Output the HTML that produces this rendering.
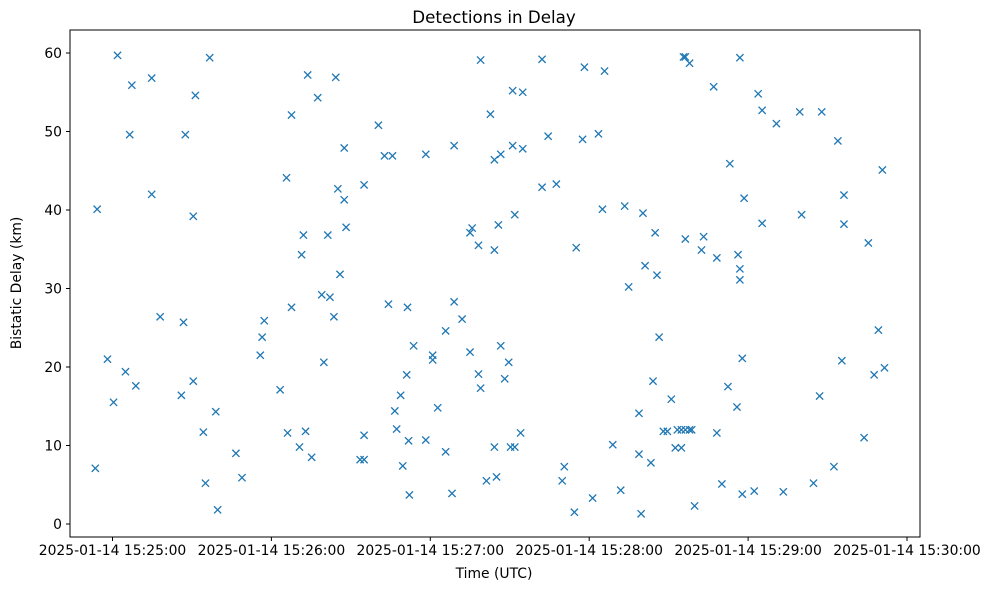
<!DOCTYPE html>
<html><head><meta charset="utf-8"><style>
body{margin:0;background:#fff;}
svg{display:block;font-family:"DejaVu Sans","Liberation Sans",sans-serif;}
</style></head><body>
<svg id="chart" width="988" height="590">
<rect x="70" y="30" width="850" height="507" fill="#fff" stroke="#000" stroke-width="1"/>
<text x="494" y="23" text-anchor="middle" font-size="16.7">Detections in Delay</text>
<text x="494" y="578" text-anchor="middle" font-size="13.9">Time (UTC)</text>
<text transform="translate(21,283) rotate(-90)" text-anchor="middle" font-size="13.9">Bistatic Delay (km)</text>
<g id="ticks"></g><g id="marks"></g>
</svg>
<script>
const seconds=[-6.5,-5.8,-1.9,0.4,1.9,4.9,6.5,7.3,8.8,14.8,14.8,18.0,26.0,26.8,27.5,30.5,30.5,31.3,34.3,35.1,36.7,39.0,39.7,46.6,48.9,55.8,56.5,57.3,63.3,65.7,66.1,67.6,67.6,70.6,71.4,72.1,72.9,73.7,75.2,77.5,79.0,79.8,81.3,82.1,83.6,84.3,85.1,85.9,87.5,87.5,88.2,93.5,95.0,95.0,95.0,100.4,102.7,104.2,105.7,106.6,107.3,108.8,109.6,111.1,111.4,111.8,112.1,113.7,118.3,118.3,120.9,120.9,122.8,125.8,125.8,128.2,129.0,129.0,132.0,135.0,135.0,135.8,138.2,138.2,139.0,139.0,141.2,142.7,144.2,144.2,144.2,145.0,145.7,146.6,146.6,148.1,149.6,150.3,151.1,151.1,151.9,151.9,154.1,154.9,154.9,162.2,162.2,164.5,167.6,169.8,170.6,174.4,175.1,177.5,178.2,181.3,183.5,185.0,185.8,188.9,191.9,193.4,194.9,198.8,198.8,199.6,200.3,201.1,203.3,204.1,204.9,205.6,206.4,208.0,209.5,211.0,212.5,213.3,214.8,214.8,215.6,216.3,216.3,217.9,216.3,217.9,218.7,219.8,223.2,222.4,227.0,228.2,228.2,230.1,232.4,233.1,235.8,236.2,236.9,236.9,236.9,237.8,237.8,238.5,242.3,243.8,245.3,245.3,250.7,253.3,259.5,260.2,264.7,267.0,267.8,272.4,273.9,275.4,276.2,276.2,283.8,285.4,287.6,289.2,290.7,291.5];
const delayKm=[7.1,40.1,21.0,15.5,59.7,19.4,49.6,55.9,17.6,56.8,42.0,26.4,16.4,25.7,49.6,39.2,18.2,54.6,11.7,5.2,59.4,14.3,1.8,9.0,5.9,21.5,23.8,25.9,17.1,44.1,11.6,27.6,52.1,9.8,34.3,36.8,11.8,57.2,8.5,54.3,29.2,20.6,36.8,28.9,26.4,56.9,42.7,31.8,47.9,41.3,37.8,8.2,8.2,11.3,43.2,50.8,46.9,28.0,46.9,14.4,12.1,16.4,7.4,19.0,27.6,10.6,3.7,22.7,10.7,47.1,21.5,20.9,14.8,9.2,24.6,3.9,48.2,28.3,26.1,21.9,37.1,37.7,19.1,35.5,59.1,17.3,5.5,52.2,34.9,46.4,9.8,6.0,38.1,47.1,22.7,18.5,20.6,9.8,48.2,55.2,9.8,39.4,11.6,47.8,55.0,42.9,59.2,49.4,43.3,5.5,7.3,1.5,35.2,49.0,58.2,3.3,49.7,40.1,57.7,10.1,4.3,40.5,30.2,14.1,8.9,1.3,39.6,32.9,7.8,18.2,37.1,31.7,23.8,11.8,11.8,15.9,9.7,12.0,12.0,9.7,59.5,12.0,59.5,12.0,36.3,58.7,12.0,2.3,36.6,34.9,55.7,33.9,11.6,5.1,17.5,45.9,14.9,34.3,32.5,31.1,59.4,21.1,3.8,41.5,4.2,54.8,52.7,38.3,51.0,4.1,52.5,39.4,5.2,16.3,52.5,7.3,48.8,20.8,41.9,38.2,11.0,35.8,19.0,24.7,45.1,19.9];
const xTickSeconds=[0,60,120,180,240,300];
const xTickLabels=["2025-01-14 15:25:00","2025-01-14 15:26:00","2025-01-14 15:27:00","2025-01-14 15:28:00","2025-01-14 15:29:00","2025-01-14 15:30:00"];
const yTicks=[0,10,20,30,40,50,60];

const NS="http://www.w3.org/2000/svg";
function xScale(s){return 112.5+s*158.9/60;}
function yScale(v){return 524-v*7.85;}
function mk(tag,attrs,parent){const e=document.createElementNS(NS,tag);for(const k in attrs)e.setAttribute(k,attrs[k]);parent.appendChild(e);return e;}
const tg=document.getElementById('ticks');
xTickSeconds.forEach((s,i)=>{
  const x=xScale(s);
  const l=mk('line',{x1:x,x2:x,y1:537,y2:541,stroke:'#000'},tg);
  
  
  const t=mk('text',{x:x,y:555,'text-anchor':'middle','font-size':13.9},tg);
  t.textContent=xTickLabels[i];
  
  
});
yTicks.forEach(v=>{
  const y=yScale(v);
  const l=mk('line',{x1:66,x2:70,y1:y,y2:y,stroke:'#000'},tg);
  
  
  const t=mk('text',{x:62,y:y+5,'text-anchor':'end','font-size':13.9},tg);
  t.textContent=String(v);
  
  
});
const mg=document.getElementById('marks');
seconds.forEach((s,i)=>{
  const x=xScale(s),y=yScale(delayKm[i]),r=3.6;
  const p=mk('path',{d:`M${x-r},${y-r}L${x+r},${y+r}M${x-r},${y+r}L${x+r},${y-r}`,stroke:'#1f77b4','stroke-width':1.3,fill:'none'},mg);
  
  
});
</script>
</body></html>
